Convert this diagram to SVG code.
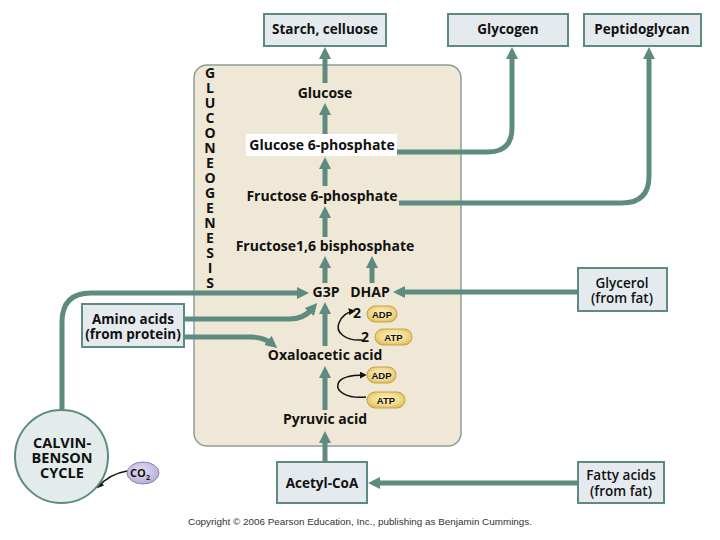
<svg xmlns="http://www.w3.org/2000/svg" width="720" height="540" viewBox="0 0 720 540">
<defs>
<marker id="ah" viewBox="0 0 12 12" refX="4" refY="6" markerWidth="12" markerHeight="12" markerUnits="userSpaceOnUse" orient="auto"><path d="M0,0 L12,6 L0,12 z" fill="#5e8b80"/></marker>
<marker id="bh" viewBox="0 0 8 8" refX="6" refY="4" markerWidth="7" markerHeight="7" markerUnits="userSpaceOnUse" orient="auto"><path d="M0,0 L8,4 L0,8 z" fill="#111"/></marker>
<radialGradient id="pill" cx="50%" cy="45%" r="60%"><stop offset="0" stop-color="#fbefc4"/><stop offset="0.6" stop-color="#f3dc8e"/><stop offset="1" stop-color="#dcb85a"/></radialGradient>
<radialGradient id="co2" cx="45%" cy="40%" r="60%"><stop offset="0" stop-color="#e4def2"/><stop offset="1" stop-color="#b9add9"/></radialGradient>
</defs>
<style>
text{font-family:"Open Sans","Noto Sans","DejaVu Sans",sans-serif;font-weight:600;fill:#111;}
.lbl{font-size:13.5px;text-anchor:middle;}
.in{font-size:14px;font-weight:700;text-anchor:middle;}
.box{fill:#e5eaee;stroke:#5e8b80;stroke-width:2;}
.flow{fill:none;stroke:#5e8b80;stroke-width:5;marker-end:url(#ah);}
.co{fill:none;stroke:#111;stroke-width:1.5;marker-end:url(#bh);}
.pill{fill:url(#pill);stroke:#c9a24a;stroke-width:1;}
.pt{font-family:"Liberation Sans",Arial,sans-serif;font-weight:700;font-size:9.5px;text-anchor:middle;}
.gl{font-size:14px;text-anchor:middle;font-weight:700;}
</style>
<rect width="720" height="540" fill="#fff"/>

<g id="pathway-box">
<rect x="194" y="65" width="267" height="381" rx="13" fill="#efe8d6" stroke="#8a9e96" stroke-width="1.5"/>
<text id="gluconeogenesis-label" class="gl"><tspan x="210" y="78">G</tspan><tspan x="210" dy="15">L</tspan><tspan x="210" dy="15">U</tspan><tspan x="210" dy="15">C</tspan><tspan x="210" dy="15">O</tspan><tspan x="210" dy="15">N</tspan><tspan x="210" dy="15">E</tspan><tspan x="210" dy="15">O</tspan><tspan x="210" dy="15">G</tspan><tspan x="210" dy="15">E</tspan><tspan x="210" dy="15">N</tspan><tspan x="210" dy="15">E</tspan><tspan x="210" dy="15">S</tspan><tspan x="210" dy="15">I</tspan><tspan x="210" dy="15">S</tspan></text>
</g>

<g id="connectors">
<path class="flow" d="M325,83 V55"/>
<path class="flow" d="M325,134 V111"/>
<path class="flow" d="M325,186 V165"/>
<path class="flow" d="M325,237 V214"/>
<path class="flow" d="M325,283 V264"/>
<path class="flow" d="M372,283 V264"/>
<path class="flow" d="M325,346 V310"/>
<path class="flow" d="M325,410 V374"/>
<path class="flow" d="M325,462 V439"/>
<path class="flow" d="M397,152 H488 Q512,152 512,128 V55"/>
<path class="flow" d="M399,203 H622 Q649,203 649,176 V55"/>
<path class="flow" d="M578,292 H401"/>
<path class="flow" d="M578,483 H376"/>
<path class="flow" d="M62,410 V322 Q62,293 91,293 H301"/>
<path class="flow" d="M184,319 H290 C300,319 306,316 312,309"/>
<path class="flow" d="M184,337 H250 C260,337 266,339 271,343"/>
<path class="co" d="M362,340 C345,341 335,332 339,323 C342,315 347,312 354,311"/>
<path class="co" d="M366,397 C346,399 336,391 338,384 C340,377 350,375 365,375"/>
<path class="co" d="M127,471 C115,473 105,479 98,487"/>
</g>

<g id="node-starch"><rect class="box" x="264" y="14" width="122" height="32"/><text class="lbl" x="325" y="34" style="font-weight:700">Starch, celluose</text></g>
<g id="node-glycogen"><rect class="box" x="448" y="14" width="120" height="32"/><text class="lbl" x="508" y="34" style="font-weight:700">Glycogen</text></g>
<g id="node-peptidoglycan"><rect class="box" x="584" y="14" width="117" height="32"/><text class="lbl" x="642" y="34" style="font-weight:700">Peptidoglycan</text></g>

<g id="node-glucose"><text class="in" x="325" y="98">Glucose</text></g>
<g id="node-g6p"><rect x="246" y="134" width="151" height="22" fill="#fff"/><text class="in" x="322" y="150">Glucose 6-phosphate</text></g>
<g id="node-f6p"><text class="in" x="322" y="201">Fructose 6-phosphate</text></g>
<g id="node-f16bp"><text class="in" x="325" y="251">Fructose1,6 bisphosphate</text></g>
<g id="node-g3p"><text class="in" x="326" y="297">G3P</text></g>
<g id="node-dhap"><text class="in" x="370" y="297">DHAP</text></g>
<g id="node-oxaloacetic"><text class="in" x="325" y="360">Oxaloacetic acid</text></g>
<g id="node-pyruvic"><text class="in" x="325" y="424">Pyruvic acid</text></g>

<g id="cofactors-1">
<text x="357" y="318" style="font-size:14px;text-anchor:middle;font-weight:700">2</text>
<rect class="pill" x="367" y="306" width="30" height="16" rx="8"/><text class="pt" x="382" y="317.5">ADP</text>
<text x="365" y="342" style="font-size:14px;text-anchor:middle;font-weight:700">2</text>
<rect class="pill" x="375" y="329" width="37" height="16" rx="8"/><text class="pt" x="393.5" y="340.5">ATP</text>
</g>
<g id="cofactors-2">
<rect class="pill" x="367" y="367" width="29" height="16" rx="8"/><text class="pt" x="381.5" y="378.5">ADP</text>
<rect class="pill" x="367" y="392" width="38" height="16" rx="8"/><text class="pt" x="386" y="403.5">ATP</text>
</g>

<g id="node-glycerol"><rect class="box" x="578" y="268" width="89" height="43"/><text class="lbl" x="622" y="288">Glycerol</text><text class="lbl" x="622" y="303">(from fat)</text></g>
<g id="node-amino"><rect class="box" x="82" y="304" width="102" height="43"/><text class="lbl" x="133" y="324" style="font-weight:700">Amino acids</text><text class="lbl" x="133" y="339" style="font-weight:700">(from protein)</text></g>
<g id="node-acetylcoa"><rect class="box" x="277" y="462" width="90" height="41"/><text class="lbl" x="322" y="488" style="font-weight:700">Acetyl-CoA</text></g>
<g id="node-fatty"><rect class="box" x="578" y="462" width="86" height="41"/><text class="lbl" x="621" y="480">Fatty acids</text><text class="lbl" x="621" y="496">(from fat)</text></g>

<g id="node-calvin"><circle cx="61.5" cy="456.5" r="46.5" fill="#e3ecea" stroke="#5e8b80" stroke-width="2"/>
<text class="lbl" x="62" y="448" style="font-size:14.5px;font-weight:700">CALVIN-</text><text class="lbl" x="62" y="463" style="font-size:14.5px;font-weight:700">BENSON</text><text class="lbl" x="62" y="478" style="font-size:14.5px;font-weight:700">CYCLE</text></g>
<g id="node-co2"><ellipse cx="143" cy="473" rx="16" ry="11" fill="url(#co2)" stroke="#8d82b5" stroke-width="1"/>
<text x="140" y="477" style="font-size:11px;text-anchor:middle;font-weight:700;">CO<tspan dy="3" style="font-size:7px;">2</tspan></text></g>

<text x="360" y="525" style="font-family:'Liberation Sans Narrow','Liberation Sans',Arial,sans-serif;font-weight:400;font-size:9.5px;text-anchor:middle;fill:#333;" textLength="344" lengthAdjust="spacingAndGlyphs">Copyright © 2006 Pearson Education, Inc., publishing as Benjamin Cummings.</text>
</svg>
